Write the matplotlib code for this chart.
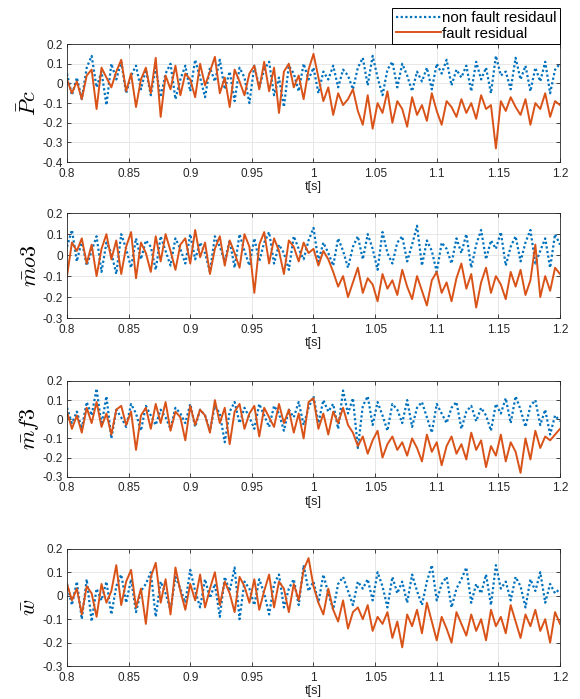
import numpy as np
import matplotlib
matplotlib.use("Agg")
import matplotlib.pyplot as plt
from matplotlib.ticker import FormatStrFormatter, MultipleLocator

plt.rcParams["font.family"] = ["Liberation Sans", "DejaVu Sans"]
plt.rcParams["mathtext.fontset"] = "cm"
plt.rcParams["axes.unicode_minus"] = False

# ================= data (sampled every 4 ms) =================
t = np.round(np.arange(0.8, 1.2001, 0.004), 3)

pc_nonfault = [
    0.05, -0.06, 0.03, -0.08, 0.08, 0.14, -0.02, 0.06, -0.11, 0.10,
    0.02, 0.11, -0.05, 0.04, 0.09, -0.03, 0.07, -0.06, 0.08, -0.07,
    0.05, 0.10, -0.08, 0.02, 0.09, -0.04, 0.12, 0.03, -0.07, 0.08,
    0.01, 0.12, -0.03, 0.06, -0.09, 0.08, 0.03, -0.10, 0.09, -0.02,
    0.07, 0.11, -0.06, 0.03, -0.12, 0.09, 0.05, -0.04, 0.10, 0.02,
    0.08, -0.05, 0.06, 0.02, 0.09, -0.02, 0.07, 0.04, -0.03, 0.08,
    0.13, -0.01, 0.14, 0.03, -0.06, 0.07, 0.11, -0.02, 0.10, 0.04,
    -0.04, 0.06, 0.01, 0.08, -0.03, 0.10, 0.05, 0.12, -0.01, 0.07,
    0.03, 0.09, -0.04, 0.11, 0.02, 0.08, -0.05, 0.14, 0.04, 0.06,
    -0.03, 0.13, 0.02, 0.09, -0.04, 0.08, 0.01, 0.11, -0.05, 0.07, 0.10,
]
pc_fault = [
    0.02, -0.05, 0.01, -0.08, 0.04, 0.07, -0.13, 0.08, 0.03, -0.02,
    0.06, 0.12, -0.04, 0.05, -0.12, 0.02, 0.08, -0.05, 0.13, -0.17,
    0.04, -0.03, 0.09, -0.06, 0.05, 0.02, -0.07, 0.10, -0.01, 0.06,
    0.135, -0.05, 0.03, -0.12, 0.07, 0.01, -0.06, 0.05, 0.09, -0.03,
    0.11, -0.04, 0.08, -0.15, 0.06, 0.10, -0.02, 0.04, -0.08, 0.07,
    0.15, 0.03, -0.09, -0.02, -0.16, -0.05, -0.11, -0.08, -0.03, -0.14,
    -0.21, -0.06, -0.23, -0.10, -0.15, -0.04, -0.20, -0.09, -0.13, -0.22,
    -0.07, -0.16, -0.11, -0.19, -0.05, -0.14, -0.21, -0.09, -0.12, -0.17,
    -0.08, -0.15, -0.10, -0.18, -0.06, -0.13, -0.11, -0.33, -0.09, -0.14,
    -0.07, -0.12, -0.16, -0.08, -0.21, -0.10, -0.13, -0.05, -0.17, -0.09, -0.11,
]

mo3_nonfault = [
    0.04, 0.12, -0.03, 0.07, -0.05, 0.02, 0.09, -0.08, 0.06, 0.01,
    -0.09, 0.10, 0.03, -0.06, 0.08, -0.02, 0.07, 0.04, -0.07, 0.09,
    0.02, -0.05, 0.08, 0.03, -0.04, 0.10, -0.02, 0.06, 0.01, -0.08,
    0.09, 0.04, -0.03, 0.07, -0.06, 0.10, 0.02, -0.05, 0.08, -0.03,
    0.06, 0.11, -0.04, 0.05, 0.01, -0.07, 0.09, 0.03, -0.02, 0.07,
    0.13, -0.03, 0.06, 0.01, -0.05, 0.08, 0.02, -0.06, 0.04, 0.09,
    -0.02, 0.10, 0.03, -0.07, 0.11, 0.01, -0.04, 0.06, 0.09, -0.03,
    0.05, 0.14, -0.05, 0.07, 0.02, -0.08, 0.06, 0.03, -0.04, 0.08,
    0.01, 0.10, -0.06, 0.05, 0.12, -0.02, 0.07, 0.03, 0.11, -0.05,
    0.04, 0.09, -0.03, 0.06, 0.12, -0.04, 0.02, 0.08, -0.06, 0.10, 0.05,
]
mo3_fault = [
    -0.10, 0.06, 0.02, 0.08, -0.04, 0.05, -0.10, 0.03, 0.10, -0.02,
    0.07, -0.09, 0.04, 0.11, -0.11, 0.06, 0.01, -0.08, 0.09, -0.03,
    0.10, 0.02, -0.07, 0.05, 0.08, -0.04, 0.12, -0.01, 0.06, -0.09,
    0.03, 0.09, -0.05, 0.07, 0.01, -0.06, 0.10, 0.04, -0.18, 0.05,
    0.11, -0.04, 0.08, 0.02, -0.09, 0.07, 0.04, -0.03, 0.06, 0.01,
    0.03, -0.05, 0.02, -0.02, -0.08, -0.15, -0.10, -0.20, -0.13, -0.06,
    -0.18, -0.11, -0.14, -0.22, -0.09, -0.16, -0.12, -0.19, -0.07, -0.15,
    -0.21, -0.10, -0.17, -0.24, -0.12, -0.08, -0.18, -0.13, -0.22, -0.11,
    -0.04, -0.16, -0.09, -0.25, -0.13, -0.06, -0.18, -0.10, -0.14, -0.21,
    -0.08, -0.15, -0.07, -0.19, -0.12, 0.05, -0.20, -0.10, -0.17, -0.06, -0.09,
]

mf3_nonfault = [
    0.06, -0.02, 0.04, -0.05, 0.09, 0.02, 0.16, -0.03, 0.12, -0.10,
    0.05, 0.01, -0.04, 0.08, 0.03, -0.06, 0.07, 0.02, -0.03, 0.05,
    0.01, -0.05, 0.06, 0.03, -0.02, 0.08, -0.04, 0.05, 0.02, -0.06,
    0.07, 0.03, -0.12, 0.04, 0.09, -0.02, 0.06, 0.01, -0.05, 0.08,
    0.02, -0.04, 0.07, 0.03, -0.06, 0.05, 0.01, 0.09, -0.03, 0.06,
    0.12, -0.02, 0.10, 0.04, 0.08, -0.05, 0.15, 0.03, 0.11, -0.15,
    0.07, 0.12, -0.03, 0.09, 0.02, -0.06, 0.08, 0.05, -0.02, 0.10,
    -0.04, 0.06, 0.09, 0.01, -0.07, 0.08, 0.03, -0.02, 0.06, 0.09,
    -0.05, 0.04, 0.07, -0.01, 0.06, 0.02, -0.06, 0.08, 0.03, 0.11,
    -0.02, 0.12, 0.05, -0.04, 0.07, 0.10, -0.03, 0.05, -0.08, 0.02, -0.01,
]
mf3_fault = [
    0.04, -0.05, 0.02, -0.07, 0.06, -0.02, 0.09, -0.04, 0.03, -0.08,
    0.05, 0.07, -0.03, 0.04, -0.16, 0.02, 0.06, -0.05, 0.08, -0.02,
    0.09, -0.06, 0.04, 0.01, -0.11, 0.07, -0.03, 0.05, 0.02, -0.07,
    0.10, -0.02, 0.06, -0.13, 0.04, 0.08, -0.05, 0.03, 0.07, -0.09,
    0.06, 0.01, -0.04, 0.08, -0.02, 0.05, -0.07, 0.03, -0.10, 0.09,
    0.11, -0.05, 0.03, -0.08, 0.04, -0.02, 0.06, -0.03, -0.07, -0.14,
    -0.09, -0.18, -0.11, -0.06, -0.20, -0.13, -0.09, -0.16, -0.12, -0.19,
    -0.10, -0.15, -0.22, -0.08, -0.17, -0.12, -0.24, -0.14, -0.09, -0.18,
    -0.13, -0.21, -0.07, -0.16, -0.11, -0.25, -0.14, -0.19, -0.08, -0.22,
    -0.12, -0.17, -0.28, -0.10, -0.21, -0.06, -0.15, -0.09, -0.11, -0.08, -0.05,
]

w_nonfault = [
    0.05, -0.04, 0.06, -0.10, 0.07, -0.11, 0.03, -0.02, 0.06, -0.08,
    0.04, 0.09, -0.03, 0.07, -0.07, 0.02, 0.05, 0.10, -0.09, 0.06,
    0.01, -0.06, 0.08, 0.03, -0.03, 0.11, 0.02, -0.05, 0.07, -0.01,
    0.05, -0.09, 0.08, 0.02, 0.12, -0.10, 0.06, 0.03, -0.04, 0.07,
    0.01, -0.08, 0.05, 0.09, -0.05, 0.03, 0.07, -0.04, 0.13, 0.02,
    0.06, -0.03, 0.09, 0.01, -0.06, 0.05, 0.08, 0.02, -0.04, 0.06,
    0.03, 0.07, -0.02, 0.10, 0.04, -0.05, 0.08, 0.01, 0.06, -0.03,
    0.09, 0.02, -0.04, 0.06, 0.13, -0.02, 0.05, 0.08, -0.05, 0.03,
    0.07, 0.12, -0.03, 0.05, 0.01, 0.09, -0.04, 0.13, 0.03, 0.06,
    -0.02, 0.08, 0.04, -0.05, 0.07, 0.02, 0.10, -0.03, 0.05, 0.01, 0.03,
]
w_fault = [
    0.05, -0.02, 0.03, -0.08, 0.04, 0.01, -0.09, 0.05, -0.03, 0.02,
    0.13, -0.04, 0.06, 0.11, -0.05, 0.03, -0.12, 0.08, 0.14, -0.03,
    0.07, -0.08, 0.12, 0.02, -0.06, 0.05, -0.02, 0.09, -0.05, 0.03,
    0.10, -0.04, 0.06, 0.01, -0.07, 0.08, 0.04, -0.03, 0.07, -0.06,
    0.02, 0.09, -0.05, 0.06, 0.03, -0.07, 0.05, -0.02, 0.11, 0.16,
    0.04, -0.03, -0.08, 0.03, -0.06, -0.11, -0.02, -0.14, -0.07, -0.05,
    -0.10, -0.04, -0.15, -0.09, -0.12, -0.07, -0.18, -0.11, -0.22, -0.08,
    -0.13, -0.06, -0.16, -0.03, -0.11, -0.19, -0.09, -0.14, -0.20, -0.07,
    -0.12, -0.17, -0.08, -0.15, -0.10, -0.19, -0.06, -0.13, -0.09, -0.16,
    -0.04, -0.11, -0.18, -0.08, -0.13, -0.06, -0.15, -0.10, -0.20, -0.07, -0.12,
]

ylabels = [r"$\bar{P}c$", r"$\bar{m}o3$", r"$\bar{m}f3$", r"$\bar{w}$"]
series = [
    (pc_nonfault, pc_fault),
    (mo3_nonfault, mo3_fault),
    (mf3_nonfault, mf3_fault),
    (w_nonfault, w_fault),
]
ylims = [(-0.4, 0.2), (-0.3, 0.2), (-0.3, 0.2), (-0.3, 0.2)]

BLUE = "#0072BD"
ORANGE = "#D95319"

# axes boxes in figure fractions: left, bottom, width, height
boxes = [
    (0.1155, 0.768, 0.85, 0.169),
    (0.1155, 0.545, 0.85, 0.150),
    (0.1155, 0.318, 0.85, 0.137),
    (0.1155, 0.047, 0.85, 0.168),
]

fig = plt.figure(figsize=(5.8, 6.99), dpi=100)

for i, box in enumerate(boxes):
    ax = fig.add_axes(box)
    nf, fa = series[i]
    l1, = ax.plot(t, nf, linestyle=(0, (1, 1.1)), color=BLUE, linewidth=1.6,
                  label="non fault residaul")
    l2, = ax.plot(t, fa, linestyle="-", color=ORANGE, linewidth=1.4,
                  label="fault residual")

    ax.set_xlim(0.8, 1.2)
    ax.set_ylim(*ylims[i])
    ax.xaxis.set_major_locator(MultipleLocator(0.05))
    ax.yaxis.set_major_locator(MultipleLocator(0.1))
    ax.xaxis.set_major_formatter(FormatStrFormatter("%g"))
    ax.yaxis.set_major_formatter(
        plt.FuncFormatter(lambda v, p: "%g" % round(v, 2)))
    ax.tick_params(direction="in", labelsize=8.5, colors="#262626",
                   length=3, width=0.6, top=True, right=True)
    ax.tick_params(axis="x", pad=4)
    ax.tick_params(axis="y", pad=3)
    ax.grid(True, color="#E3E3E3", linewidth=0.6)
    ax.set_axisbelow(True)
    for s in ax.spines.values():
        s.set_color("#262626")
        s.set_linewidth(0.6)

    ax.set_xlabel("t[s]", fontsize=9, color="#262626", labelpad=1)
    ax.set_ylabel(ylabels[i], fontsize=16, labelpad=1)

    if i == 0:
        leg = fig.legend(handles=[l1, l2], loc="lower right",
                         bbox_to_anchor=(0.9655, 0.937), fontsize=10.8,
                         fancybox=False, framealpha=1, edgecolor="black",
                         handlelength=3.0, handletextpad=0.1,
                         borderpad=0.22, labelspacing=0.1,
                         borderaxespad=0)
        leg.get_frame().set_linewidth(0.7)

fig.savefig("out.png", dpi=100)
